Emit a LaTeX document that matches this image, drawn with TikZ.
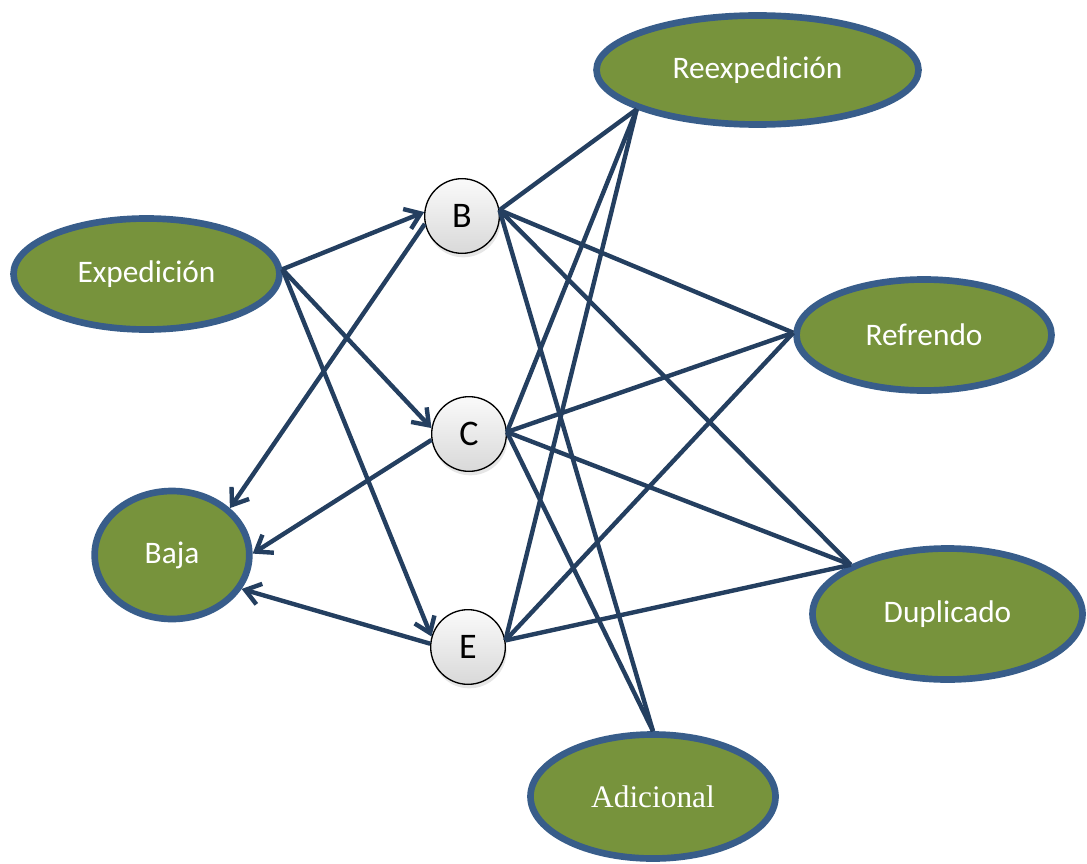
\documentclass[tikz,border=0pt]{standalone}
\usepackage{fontspec}
\setmainfont{Carlito}
\newfontfamily\serifadic{Liberation Serif}
\usetikzlibrary{shapes.geometric,arrows.meta,shadows}
\definecolor{ellfill}{HTML}{77933C}
\definecolor{ellline}{HTML}{385D8A}
\definecolor{edgecol}{HTML}{243F60}
\begin{document}
\begin{tikzpicture}[x=0.75pt,y=-0.75pt,
 ell/.style={ellipse,draw=ellline,line width=5pt,fill=ellfill,inner sep=0pt,text=white,font=\fontsize{23.5}{28}\selectfont},
 ball/.style={circle,draw=black,line width=1pt,top color=gray!4,bottom color=gray!30,minimum size=56pt,inner sep=0pt,font=\fontsize{27}{32}\selectfont,drop shadow={opacity=0.2,shadow xshift=1pt,shadow yshift=-3pt}},
 link/.style={draw=edgecol,line width=3.3pt},
 arr/.style={link,-{Straight Barb[length=11pt,width=16pt]}}]
\useasboundingbox (0,0) rectangle (1087,863);
\node[ell,minimum width=199.5pt,minimum height=83.25pt] (exp) at (146.5,274) {Expedición};
\node[ell,minimum width=241.5pt,minimum height=81.75pt] (reexp) at (757.5,70) {Reexpedición};
\node[ell,minimum width=191.25pt,minimum height=83.25pt] (ref) at (924,335) {Refrendo};
\node[ell,minimum width=202.5pt,minimum height=98.25pt] (dup) at (947.5,614) {Duplicado};
\node[ell,minimum width=183.75pt,minimum height=93pt,font=\serifadic\fontsize{23.5}{28}\selectfont] (adic) at (653,796.5) {Adicional};
\node[ell,minimum width=116pt,minimum height=96pt] (baja) at (172,555) {Baja};
\node[ball] (B) at (462,216) {B};
\node[ball] (C) at (469,434) {C};
\node[ball] (E) at (468,647) {E};
% from Expedicion
\draw[arr] (exp.2) -- (B.174);
\draw[arr] (exp.2) -- (C.171);
\draw[arr] (exp.2) -- (E.164);
% to Baja
\draw[arr] (B.192) -- (baja.39);
\draw[arr] (C.189) -- (baja.1);
\draw[arr] (E.175) -- (baja.-26);
% right side
\draw[link] (B.9) -- (reexp.198);
\draw[link] (B.9) -- (ref.179);
\draw[link] (B.9) -- (dup.153);
\draw[link] (B.9) -- (adic.90);
\draw[link] (C.3) -- (reexp.198);
\draw[link] (C.3) -- (ref.179);
\draw[link] (C.3) -- (dup.153);
\draw[link] (C.3) -- (adic.90);
\draw[link] (E.10) -- (reexp.198);
\draw[link] (E.10) -- (ref.179);
\draw[link] (E.10) -- (dup.153);
\end{tikzpicture}
\end{document}
